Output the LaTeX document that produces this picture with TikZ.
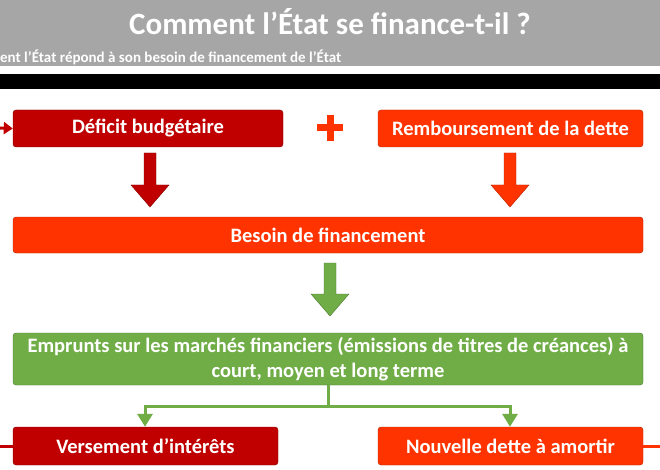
\documentclass[tikz,border=0pt]{standalone}
\usepackage{fontspec}
\setmainfont{Carlito}
\usetikzlibrary{arrows.meta}
\definecolor{dred}{HTML}{C00000}
\definecolor{ored}{HTML}{FF3300}
\definecolor{grn}{HTML}{70AD47}
\definecolor{gry}{HTML}{A6A6A6}
\begin{document}
\begin{tikzpicture}[x=1pt,y=-1pt,
  box/.style={rounded corners=3pt,draw=#1!70!black,fill=#1,text=white,font=\bfseries\fontsize{20.5}{25}\selectfont,align=center,inner sep=0pt},
  bigarrow/.style={fill=#1,draw=#1!70!black}]
\useasboundingbox (0,0) rectangle (660,470);
\fill[white] (0,0) rectangle (660,470);
\fill[gry] (0,0) rectangle (660,66);
\fill[black] (0,74) rectangle (660,89);
\node[text=white,font=\bfseries\fontsize{31}{35}\selectfont] (title) at (330,22) {Comment l’État se finance-t-il ?};
\node[text=white,font=\bfseries\fontsize{15}{17}\selectfont,anchor=west,inner sep=0pt] (sub) at (0,57) {ent l’État répond à son besoin de financement de l’État};
\node[box=dred,minimum width=270,minimum height=37] (def) at (148,128.5) {Déficit budgétaire};
\node[box=ored,minimum width=265,minimum height=37] (rem) at (510.5,128.5) {Remboursement de la dette};
\node[box=ored,minimum width=630,minimum height=36] (bes) at (328,235) {Besoin de financement};
\node[box=grn,minimum width=630,minimum height=52] (emp) at (328,359) {Emprunts sur les marchés financiers (émissions de titres de créances) à\\court, moyen et long terme};
\node[box=dred,minimum width=265,minimum height=38] (ver) at (145.5,446) {Versement d’intérêts};
\node[box=ored,minimum width=265,minimum height=38] (nou) at (510.5,446) {Nouvelle dette à amortir};
% plus sign
\node[fill=ored,minimum width=7,minimum height=26,inner sep=0] (p1) at (330,128) {};
\node[fill=ored,minimum width=26,minimum height=7,inner sep=0] (p2) at (330,128) {};
% block arrows
\foreach \x/\c/\ya/\yb in {150/dred/153/207,510/ored/153/207,330/grn/263/316}{
  \draw[bigarrow=\c] (\x-6,\ya) -- (\x+6,\ya) -- (\x+6,\yb-22) -- (\x+19,\yb-22) -- (\x,\yb) -- (\x-19,\yb-22) -- (\x-6,\yb-22) -- cycle;}
\coordinate (j) at (328,406);
\draw[grn,line width=3pt] (emp.south) -- (j);
\draw[grn,line width=3pt,-{Triangle[width=15pt,length=13pt]}] (j) -| (ver.north -| 145,0) ;
\draw[grn,line width=3pt,-{Triangle[width=15pt,length=13pt]}] (j) -| (nou.north -| 510,0);
\coordinate (l0) at (0,128);
\coordinate (l1) at (0,446);
\coordinate (r1) at (660,446);
\draw[dred,line width=3pt,-{Triangle[width=12pt,length=9pt]}] (l0) -- (def.west);
\draw[dred,line width=3pt] (l1) -- (ver.west);
\draw[ored,line width=3pt] (nou.east) -- (r1);
\end{tikzpicture}
\end{document}
